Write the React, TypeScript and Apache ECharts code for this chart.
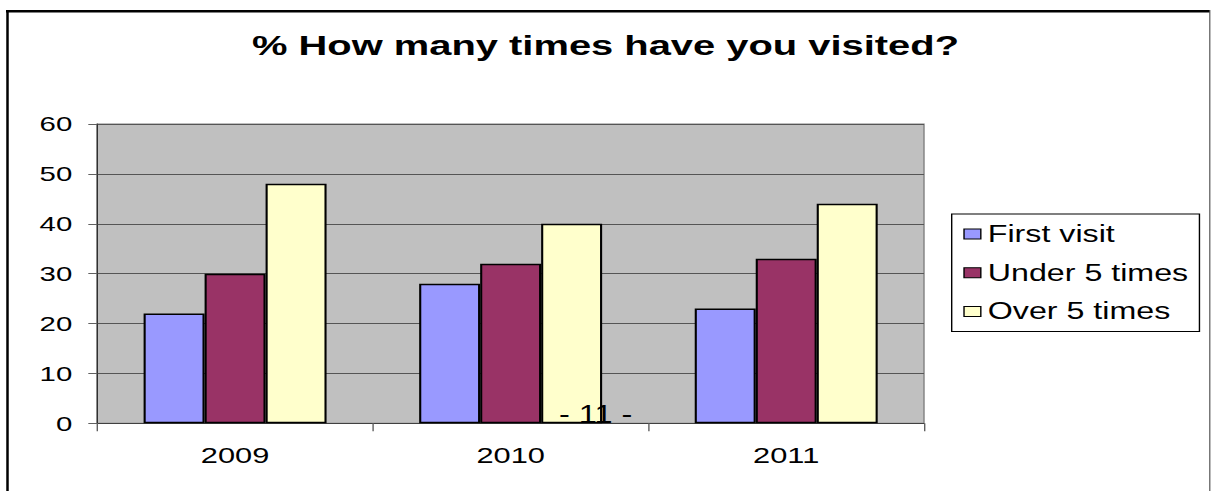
import React, { useEffect, useRef } from "react";
import * as echarts from "echarts";

const categories = ["2009", "2010", "2011"];
const firstVisit = [22, 28, 23];
const under5 = [30, 32, 33];
const over5 = [48, 40, 44];
const seriesNames = ["First visit", "Under 5 times", "Over 5 times"];
const titleText = "% How many times have you visited?";
const pageNumber = "- 11 -";

const S = 1.4; // horizontal stretch of the reference picture
const W = 1211;
const H = 491;
const W0 = W / S;
const fx = (x: number) => x / S;

export default function App() {
  const ref = useRef<HTMLDivElement>(null);
  useEffect(() => {
    if (!ref.current) return;
    const chart = echarts.init(ref.current, null, { renderer: "svg" });
    const font = 'Arial, "Liberation Sans", sans-serif';
    chart.setOption({
      animation: false,
      backgroundColor: "#ffffff",
      title: {
        text: titleText,
        left: "center",
        top: 31,
        padding: 0,
        textStyle: { fontSize: 28.5, fontWeight: "bold", color: "#000", fontFamily: font },
      },
      legend: {
        orient: "vertical",
        left: fx(951.7),
        top: 214,
        padding: [8.5, 8, 8.5, 8.3],
        itemGap: 15.8,
        itemWidth: 12,
        itemHeight: 10,
        icon: "rect",
        borderColor: "#000",
        borderWidth: 1,
        textStyle: { fontSize: 23, color: "#000", fontFamily: font },
        itemStyle: { borderColor: "#000", borderWidth: 1 },
        data: seriesNames,
      },
      grid: {
        show: true,
        left: fx(97.3),
        right: fx(W - 924),
        top: 124,
        bottom: H - 423.3,
        backgroundColor: "#C0C0C0",
        borderColor: "#808080",
        borderWidth: 1,
      },
      xAxis: {
        type: "category",
        data: categories,
        axisLine: { show: true, lineStyle: { color: "#404040", width: 1 } },
        axisTick: { show: true, alignWithLabel: false, length: 8, lineStyle: { color: "#606060" } },
        axisLabel: { fontSize: 22, color: "#000", fontFamily: font, margin: 21 },
        splitLine: { show: false },
      },
      yAxis: {
        type: "value",
        min: 0,
        max: 60,
        interval: 10,
        axisLine: { show: true, lineStyle: { color: "#303030", width: 1 } },
        axisTick: { show: true, length: fx(9), lineStyle: { color: "#606060" } },
        axisLabel: { fontSize: 21, color: "#000", fontFamily: font, margin: fx(25) },
        splitLine: { show: true, lineStyle: { color: "#555555", width: 1 } },
      },
      series: [
        {
          name: seriesNames[0],
          type: "bar",
          data: firstVisit,
          barGap: "0%",
          barCategoryGap: "33.6%",
          itemStyle: { color: "#9999FF", borderColor: "#000", borderWidth: 1.5 },
        },
        {
          name: seriesNames[1],
          type: "bar",
          data: under5,
          barGap: "0%",
          barCategoryGap: "33.6%",
          itemStyle: { color: "#993366", borderColor: "#000", borderWidth: 1.5 },
        },
        {
          name: seriesNames[2],
          type: "bar",
          data: over5,
          barGap: "0%",
          barCategoryGap: "33.6%",
          itemStyle: { color: "#FFFFCC", borderColor: "#000", borderWidth: 1.5 },
        },
      ],
      graphic: [
        {
          type: "line",
          z: 100,
          shape: { x1: fx(7.5), y1: 10, x2: fx(7.5), y2: H },
          style: { stroke: "#000", lineWidth: 2.5 / S },
        },
        {
          type: "line",
          z: 100,
          shape: { x1: fx(6), y1: 11.2, x2: fx(1210), y2: 11.2 },
          style: { stroke: "#000", lineWidth: 2.5 },
        },
        {
          type: "line",
          z: 100,
          shape: { x1: fx(1209.8), y1: 10, x2: fx(1209.8), y2: H },
          style: { stroke: "#555", lineWidth: 1.2 / S },
        },
        {
          type: "text",
          z: 100,
          x: fx(559),
          y: 414,
          scaleX: 1.25 / S,
          style: {
            text: pageNumber,
            fontSize: 26,
            fontFamily: font,
            fill: "#000",
            verticalAlign: "middle",
          },
        },
      ],
    });
    return () => chart.dispose();
  }, []);
  return (
    <div
      ref={ref}
      style={{
        position: "absolute",
        left: 0,
        top: 0,
        width: W0,
        height: H,
        transform: `scaleX(${S})`,
        transformOrigin: "0 0",
      }}
    />
  );
}
